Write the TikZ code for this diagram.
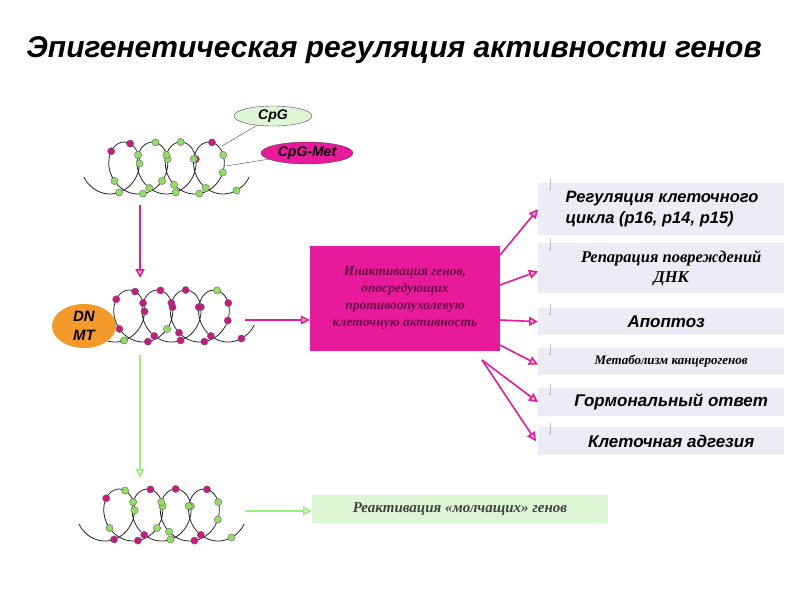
\documentclass[tikz,border=0pt]{standalone}
\usepackage{fontspec}
\setmainfont{Liberation Serif}
\setsansfont{Liberation Sans}
\usetikzlibrary{arrows.meta,shapes.geometric}
\definecolor{mag}{HTML}{E8199A}
\definecolor{bm}{HTML}{C8197F}
\definecolor{bg}{HTML}{90E060}
\definecolor{lgreen}{HTML}{DDF7D6}
\definecolor{lav}{HTML}{ECECF6}
\definecolor{orng}{HTML}{F39A2A}
\definecolor{agreen}{HTML}{9AF07A}
\newcommand\dnahelix[3]{%
  \draw[thick,black!85] plot[smooth,samples=160,domain=-70:1510]
    ({#1+0.0785398*\x+22*sin(\x)},{#2+26*cos(\x)});
  \foreach \a/\c in {#3}
    \filldraw[fill=\c,draw=black!60,thin] ({#1+0.0785398*\a+22*sin(\a)},{#2+26*cos(\a)}) circle (3.6);
}
\tikzset{
  pline/.style={mag,line width=1.6pt,-{Triangle[open,length=9pt,width=9pt,fill=pink]}},
  gline/.style={agreen,line width=1.6pt,-{Triangle[open,length=9pt,width=9pt,fill=lgreen]}},
  rbox/.style={fill=lav,draw=none,minimum width=246pt,anchor=north west,inner sep=0pt},
  sbf/.style={font=\sffamily\bfseries\itshape},
  rbf/.style={font=\rmfamily\bfseries\itshape},
}
\begin{document}
\begin{tikzpicture}[x=1pt,y=-1pt]
\useasboundingbox (0,0) rectangle (800,600);
\fill[white] (0,0) rectangle (800,600);
\node[sbf,font=\sffamily\bfseries\itshape\fontsize{30}{34}\selectfont] (title) at (394,50) {Эпигенетическая регуляция активности генов};
% helices
\dnahelix{110}{168}{20/bg,100/bg,160/bm,230/bm,300/bg,370/bg,420/bg,470/bg,530/bg,600/bg,680/bg,740/bg,830/bm,900/bg,960/bg,1030/bg,1090/bg,1160/bg,1200/bg,1250/bm,1330/bg,1400/bg,1470/bg}
\dnahelix{115}{316}{20/bg,100/bm,160/bm,230/bm,300/bm,370/bm,420/bg,470/bm,530/bm,600/bm,680/bm,740/bm,830/bm,900/bm,960/bm,1030/bm,1090/bm,1160/bm,1200/bm,1250/bg,1330/bm,1400/bm,1470/bm}
\dnahelix{105}{515}{20/bm,100/bg,160/bg,230/bm,300/bg,370/bm,420/bg,470/bg,530/bm,600/bg,680/bm,740/bg,830/bg,900/bm,960/bg,1030/bg,1090/bm,1160/bg,1200/bg,1250/bm,1330/bg,1400/bm,1470/bg}
% labels
\node[draw=black!70,fill=lgreen,ellipse,minimum width=78pt,minimum height=20pt,inner sep=0pt,sbf,font=\sffamily\bfseries\itshape\fontsize{14}{16}\selectfont] (cpg) at (273,116) {CpG};
\node[draw=black!70,fill=mag,ellipse,minimum width=92pt,minimum height=22pt,inner sep=0pt,sbf,font=\sffamily\bfseries\itshape\fontsize{14}{16}\selectfont] (cpgm) at (307,153) {CpG-Met};
\coordinate (b1) at (222,146);
\coordinate (b2) at (226,166);
\draw[black!70] (cpg) -- (b1);
\draw[black!70] (cpgm) -- (b2);
\node[fill=orng,ellipse,minimum width=64pt,minimum height=44pt,inner sep=0pt,align=center,sbf,font=\sffamily\bfseries\itshape\fontsize{15}{19}\selectfont] (dnmt) at (84,326) {DN\\MT};
% vertical arrows
\coordinate (v1) at (140,205); \coordinate (v2) at (140,278);
\coordinate (v3) at (140,355); \coordinate (v4) at (140,478);
\draw[pline] (v1) -- (v2);
\draw[gline] (v3) -- (v4);
% center box
\node[fill=mag,minimum width=190pt,minimum height=105pt,align=center,inner sep=2pt,rbf,font=\rmfamily\bfseries\itshape\fontsize{13.5}{17}\selectfont,text=black!55!mag] (inact) at (405,298) {Инактивация генов,\\опосредующих\\противоопухолевую\\клеточную активность};
\coordinate (h1) at (245,320);
\draw[pline] (h1) -- (inact.west|-h1);
% right boxes
\node[rbox,minimum height=52pt] (r1) at (538,183) {};
\node[rbox,minimum height=50pt] (r2) at (538,243) {};
\node[rbox,minimum height=27pt] (r3) at (538,308) {};
\node[rbox,minimum height=27pt] (r4) at (538,348) {};
\node[rbox,minimum height=28pt] (r5) at (538,388) {};
\node[rbox,minimum height=28pt] (r6) at (538,427) {};
\node[sbf,font=\sffamily\bfseries\itshape\fontsize{16.5}{21}\selectfont,align=left,anchor=west] at ([xshift=24pt]r1.west) {Регуляция клеточного\\цикла (p16, p14, p15)};
\node[rbf,font=\rmfamily\bfseries\itshape\fontsize{16.5}{20}\selectfont,align=center] at ([xshift=10pt]r2.center) {Репарация повреждений\\ДНК};
\node[sbf,font=\sffamily\bfseries\itshape\fontsize{17}{19}\selectfont] at ([xshift=5pt]r3.center) {Апоптоз};
\node[rbf,font=\rmfamily\bfseries\itshape\fontsize{13}{15}\selectfont] at ([xshift=10pt]r4.center) {Метаболизм канцерогенов};
\node[sbf,font=\sffamily\bfseries\itshape\fontsize{17}{19}\selectfont] at ([xshift=10pt]r5.center) {Гормональный ответ};
\node[sbf,font=\sffamily\bfseries\itshape\fontsize{17}{19}\selectfont] at ([xshift=10pt]r6.center) {Клеточная адгезия};
\foreach \r in {r1,r2,r3,r4,r5,r6}
  \draw[black!25,-{Stealth[length=3pt]}] ([xshift=12pt,yshift=4pt]\r.north west) -- ++(0,12);
% fan arrows
\coordinate (f1) at (500,255); \coordinate (f2) at (500,285);
\coordinate (f3) at (500,320); \coordinate (f4) at (500,345);
\coordinate (f5) at (482,360);
\draw[pline] (f1) -- (r1.west);
\draw[pline] (f2) -- ([yshift=-3pt]r2.west);
\draw[pline] (f3) -- (r3.west);
\draw[pline] (f4) -- ([yshift=-3pt]r4.west);
\draw[pline] (f5) -- (r5.west);
\draw[pline] (f5) -- ([xshift=-2pt]r6.west);
% reactivation
\node[fill=lgreen,minimum width=296pt,minimum height=28pt,rbf,font=\rmfamily\bfseries\itshape\fontsize{15}{17}\selectfont,text=black!75] (react) at (460,509) {Реактивация «молчащих» генов};
\coordinate (h2) at (245,511);
\draw[gline] (h2) -- (react.west|-h2);
\end{tikzpicture}
\end{document}
